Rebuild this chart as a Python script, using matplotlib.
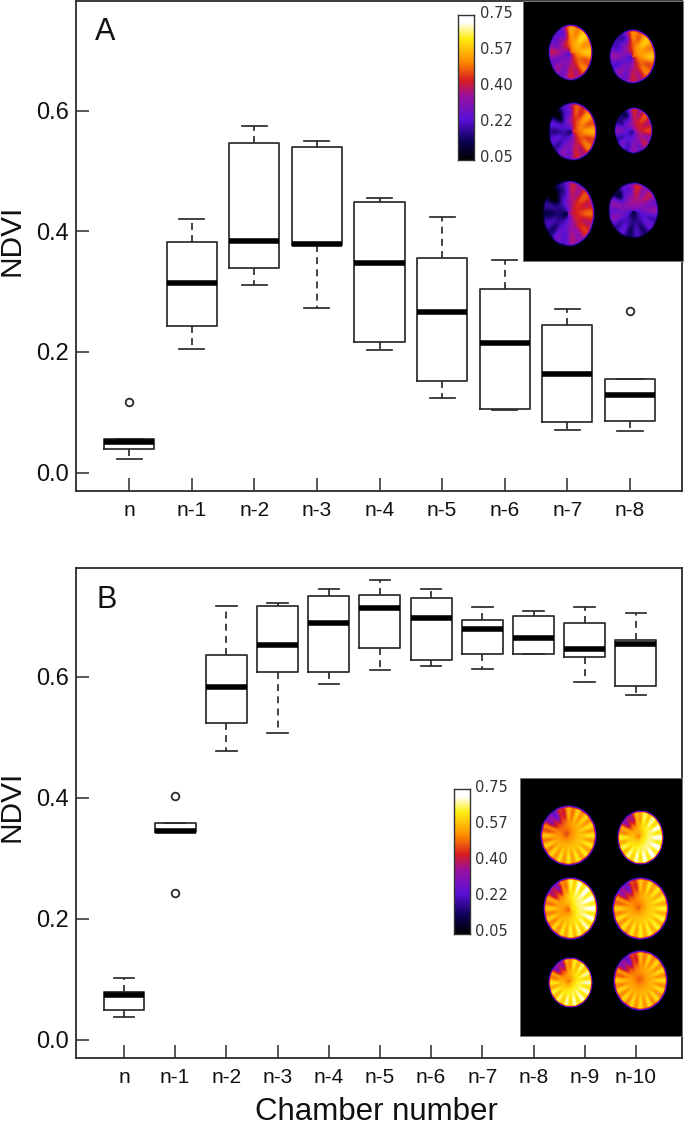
import numpy as np
import matplotlib
matplotlib.use("Agg")
import matplotlib.pyplot as plt
from matplotlib.colors import LinearSegmentedColormap

plt.rcParams['font.family'] = ['Liberation Sans', 'DejaVu Sans']

W, H = 685, 1125
INK = '#2b2b2b'

labels_a = ['n', 'n-1', 'n-2', 'n-3', 'n-4', 'n-5', 'n-6', 'n-7', 'n-8']
whislo_a = [0.023, 0.205, 0.312, 0.273, 0.204, 0.124, 0.104, 0.070, 0.069]
q1_a     = [0.039, 0.243, 0.340, 0.378, 0.217, 0.152, 0.105, 0.084, 0.086]
med_a    = [0.050, 0.315, 0.385, 0.380, 0.348, 0.266, 0.215, 0.163, 0.129]
q3_a     = [0.056, 0.383, 0.547, 0.540, 0.449, 0.356, 0.305, 0.245, 0.155]
whishi_a = [0.056, 0.420, 0.575, 0.550, 0.455, 0.424, 0.353, 0.272, 0.155]
fliers_a = [[0.117], [], [], [], [], [], [], [], [0.268]]

labels_b = ['n', 'n-1', 'n-2', 'n-3', 'n-4', 'n-5', 'n-6', 'n-7', 'n-8', 'n-9', 'n-10']
whislo_b = [0.038, 0.344, 0.477, 0.507, 0.588, 0.611, 0.618, 0.613, 0.638, 0.592, 0.570]
q1_b     = [0.050, 0.344, 0.524, 0.608, 0.608, 0.648, 0.628, 0.638, 0.638, 0.633, 0.585]
med_b    = [0.074, 0.345, 0.583, 0.653, 0.689, 0.714, 0.698, 0.679, 0.664, 0.646, 0.655]
q3_b     = [0.080, 0.359, 0.636, 0.717, 0.734, 0.735, 0.730, 0.694, 0.700, 0.689, 0.661]
whishi_b = [0.102, 0.359, 0.717, 0.722, 0.745, 0.760, 0.745, 0.716, 0.709, 0.716, 0.706]
fliers_b = [[], [0.403, 0.243], [], [], [], [], [], [], [], [], []]

yticks = [0.0, 0.2, 0.4, 0.6]
cbar_ticks = ['0.75', '0.57', '0.40', '0.22', '0.05']

# Specimen blobs for the micrographs: cx, cy, rx, ry (px in the image), peak, low, light angle (deg), chambers
spec_a = [(47, 51, 22, 28, 0.60, 0.30, 40, 8), (109, 55, 23, 27, 0.58, 0.26, 30, 8),
          (49, 130, 24, 29, 0.54, 0.19, 15, 9), (110, 129, 19, 23, 0.44, 0.22, 40, 8),
          (45, 212, 26, 33, 0.46, 0.14, 10, 9), (110, 209, 25, 28, 0.40, 0.15, 95, 9)]
spec_b = [(48, 57, 28, 30, 0.62, 0.56, 320, 16), (120, 59, 23, 27, 0.72, 0.62, 330, 14),
          (50, 130, 27, 31, 0.72, 0.58, 20, 16), (120, 130, 28, 31, 0.64, 0.58, 330, 16),
          (50, 204, 22, 25, 0.70, 0.60, 320, 14), (120, 202, 27, 30, 0.60, 0.58, 320, 16)]

fire = LinearSegmentedColormap.from_list('fire', [
    (0.00, '#000000'), (0.12, '#0a0050'), (0.28, '#5a10d8'), (0.44, '#9a10a0'),
    (0.55, '#d81c20'), (0.68, '#ff8c00'), (0.84, '#ffee10'), (0.95, '#ffffff'), (1.00, '#ffffff')])


def px_axes(fig, x0, y0, x1, y1, **kw):
    return fig.add_axes([x0 / W, 1 - y1 / H, (x1 - x0) / W, (y1 - y0) / H], **kw)


def panel(fig, box, xlim, ylim, labels, lo, q1, med, q3, hi, fl):
    ax = px_axes(fig, *box)
    stats = [dict(whislo=a, q1=b, med=c, q3=d, whishi=e, fliers=f)
             for a, b, c, d, e, f in zip(lo, q1, med, q3, hi, fl)]
    ax.bxp(stats, positions=np.arange(1, len(labels) + 1), widths=0.8, showfliers=True,
           boxprops=dict(color=INK, lw=1.25),
           medianprops=dict(color='black', lw=4.0, solid_capstyle='butt'),
           whiskerprops=dict(color=INK, lw=1.25, ls=(0, (4, 3))),
           capprops=dict(color=INK, lw=1.25),
           flierprops=dict(marker='o', mfc='none', mec=INK, mew=1.3, ms=5.5))
    ax.set_xlim(*xlim)
    ax.set_ylim(*ylim)
    ax.set_xticks(np.arange(1, len(labels) + 1))
    ax.set_xticklabels(labels, fontsize=15)
    ax.set_yticks(yticks)
    ax.set_yticklabels([f'{v:.1f}' for v in yticks], fontsize=17)
    ax.tick_params(axis='x', direction='in', length=9.5, width=1.1, color=INK, pad=7, labelcolor='#111111')
    ax.tick_params(axis='y', direction='in', length=9.5, width=1.1, color=INK, pad=5, labelcolor='#111111')
    for s in ax.spines.values():
        s.set_linewidth(1.3)
        s.set_color(INK)
    return ax


def micrograph(specs, w, h):
    yy, xx = np.mgrid[0:h, 0:w].astype(float)
    img = np.full((h, w), 0.0)
    for cx, cy, rx, ry, peak, low, ang, n in specs:
        u, v = (xx - cx) / rx, (yy - cy) / ry
        r = np.hypot(u, v)
        th = np.arctan2(-v, u)
        shade = 0.5 + 0.5 * np.cos(th - np.radians(ang))
        val = low + (peak - low) * shade ** 0.8
        val = val + 0.05 * np.cos(n * th) * np.clip((r - 0.4) / 0.3, 0, 1)
        val = val - 0.08 * np.exp(-(r / 0.25) ** 2)
        # darker aperture lobe at the upper left
        lobe = np.exp(-(((u + 0.55) / 0.4) ** 2 + ((v + 0.65) / 0.35) ** 2))
        val = val - 0.28 * lobe
        edge = np.clip((1.04 - r) / 0.14, 0, 1)
        edge = edge * edge * (3 - 2 * edge)
        img = np.maximum(img, val * edge)
    return img


def image_axes(fig, box, specs):
    x0, y0, x1, y1 = box
    ax = px_axes(fig, *box, zorder=5)
    ax.imshow(micrograph(specs, int(x1 - x0), int(y1 - y0)), cmap=fire, vmin=0, vmax=0.8,
              aspect='auto', interpolation='bilinear')
    ax.set_xticks([])
    ax.set_yticks([])
    for s in ax.spines.values():
        s.set_color('#777777')
        s.set_linewidth(0.7)


def colorbar_axes(fig, box, text_x, text_ys):
    ax = px_axes(fig, *box, zorder=5)
    ax.imshow(np.linspace(1, 0, 256)[:, None], cmap=fire, aspect='auto')
    ax.set_xticks([])
    ax.set_yticks([])
    for s in ax.spines.values():
        s.set_color('#333333')
        s.set_linewidth(1.0)
    for t, y in zip(cbar_ticks, text_ys):
        fig.text(text_x / W, 1 - y / H, t, fontsize=10.5, color='#333333',
                 va='center', ha='left', family=['DejaVu Sans'], zorder=6)


fig = plt.figure(figsize=(W / 100, H / 100), dpi=100, facecolor='white')

panel(fig, (76, 1, 682, 491), (0.153, 9.83), (-0.0307, 0.7825), labels_a,
      whislo_a, q1_a, med_a, q3_a, whishi_a, fliers_a)
panel(fig, (76, 568, 682, 1058), (0.0625, 11.90), (-0.0298, 0.780), labels_b,
      whislo_b, q1_b, med_b, q3_b, whishi_b, fliers_b)

image_axes(fig, (523, 1, 683, 261), spec_a)
image_axes(fig, (520, 778, 682, 1036), spec_b)
colorbar_axes(fig, (458, 15, 474, 160), 480, [13, 49, 85, 121, 157])
colorbar_axes(fig, (454, 789, 469.5, 934), 475, [787, 823, 859, 896, 932])

fig.text(95 / W, 1 - 32 / H, 'A', fontsize=22, va='center', ha='left', color='#111111')
fig.text(96 / W, 1 - 600 / H, 'B', fontsize=22, va='center', ha='left', color='#111111')
fig.text(12 / W, 1 - 240 / H, 'NDVI', fontsize=21.5, rotation=90, va='center', ha='center', color='#111111')
fig.text(12 / W, 1 - 806 / H, 'NDVI', fontsize=21.5, rotation=90, va='center', ha='center', color='#111111')
fig.text(376 / W, 1 - 1112 / H, 'Chamber number', fontsize=22.5, va='center', ha='center', color='#111111')

fig.savefig('out.png', dpi=100, facecolor='white')
